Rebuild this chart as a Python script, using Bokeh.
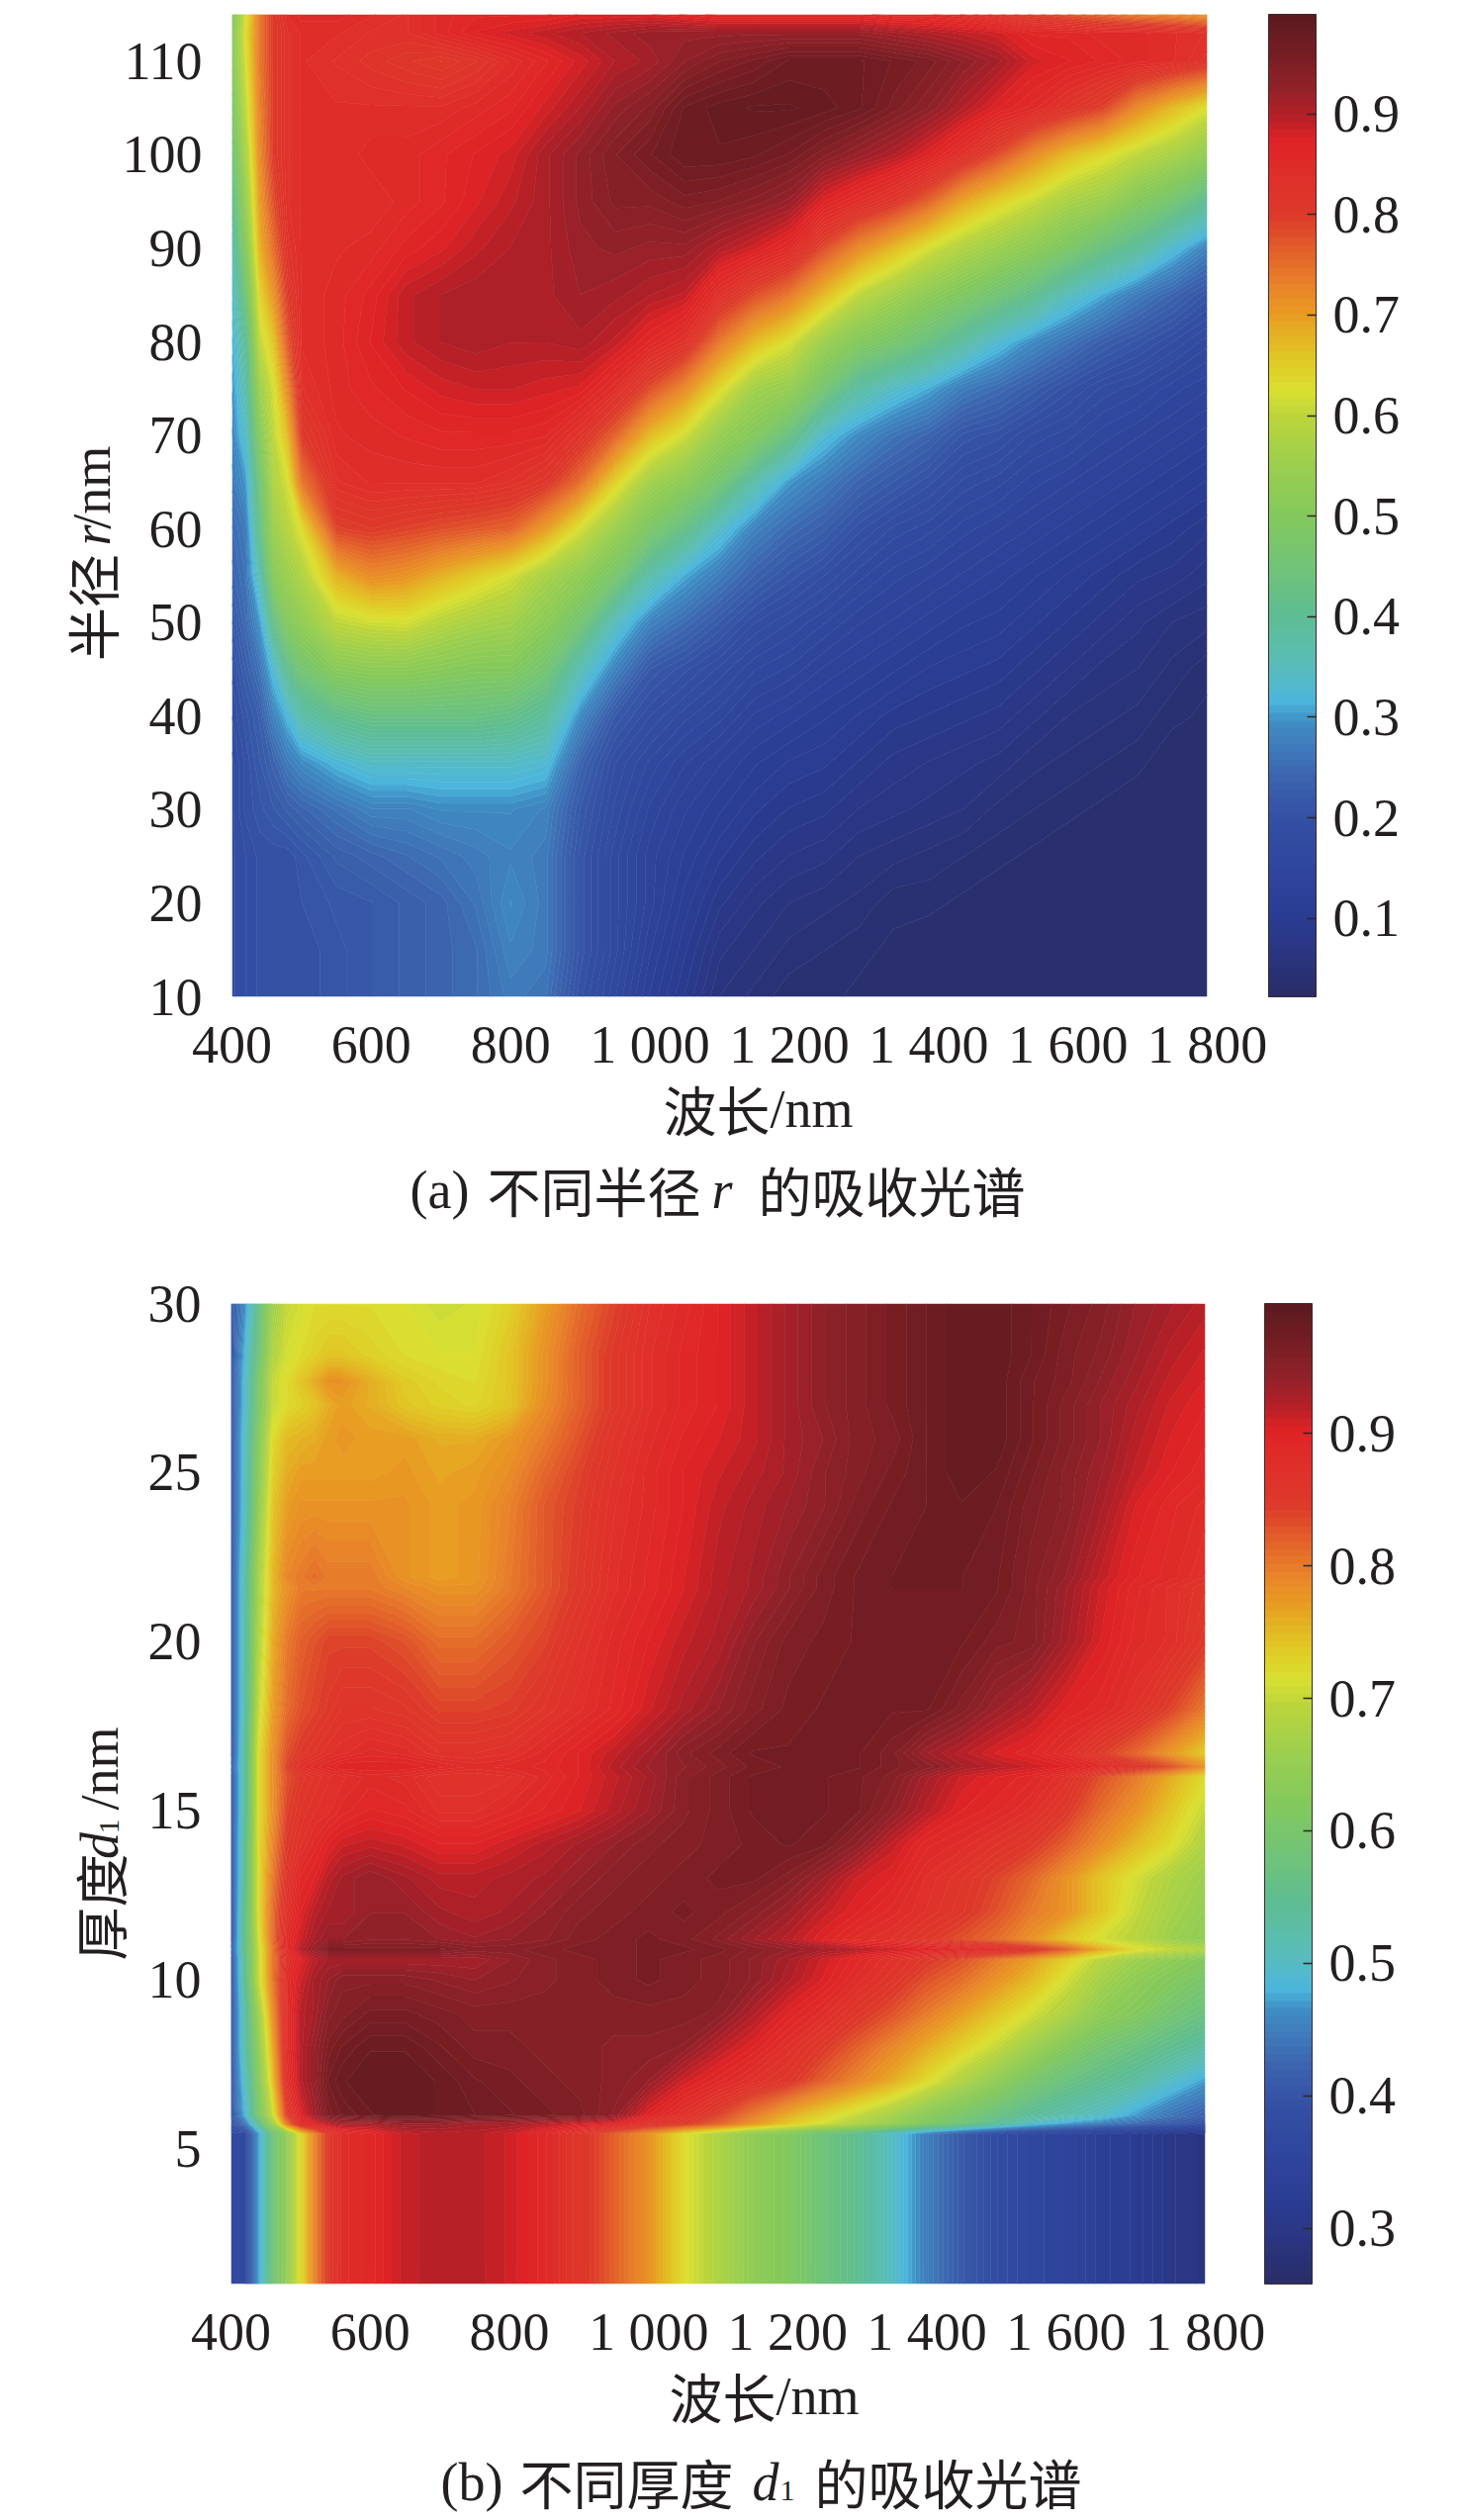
import math
import numpy as np
from bokeh.core.properties import value
from bokeh.embed import file_html
from bokeh.layouts import column, row
from bokeh.models import ColorBar, FixedTicker, LinearColorMapper, Range1d
from bokeh.plotting import figure
from bokeh.resources import INLINE

# ---------- shared colour scale ----------
cmap_stops = [0.0, .04, .08, .13, .18, .22, .25, .28, .30, .31, .34, .39, .44, .49, .54, .59, .618, .637, .665, .695,
              .725, .765, .795, .83, .87, .90, .925, .955, 1.0]
cmap_colors = ["#2a2e66", "#2b357f", "#2a3d92", "#2f469c", "#3450a4", "#3c62ad", "#3f78b9", "#3f8fc4", "#4cb5dc",
               "#50b8d4", "#5abdb8", "#5fbd93", "#72c477", "#84c95d", "#9bcf50", "#bcd53c", "#dbe032", "#dfd228",
               "#e3bb24", "#e89b22", "#e8832a", "#e25a2a", "#dd3a2a", "#e0312a", "#df2426", "#b02028", "#92222a",
               "#7a1f24", "#5a1a20"]
N_LEVELS = 128

# ---------- panel (a) ----------
wavelength_a = [400, 420, 440, 460, 480, 500, 550, 600, 650, 700, 750, 800, 850, 900, 950, 1000, 1050, 1100, 1150,
                1200, 1250, 1300, 1350, 1400, 1450, 1500, 1550, 1600, 1650, 1700, 1750, 1800]
radius = [10, 15, 20, 25, 30, 35, 40, 45, 50, 55, 60, 65, 70, 75, 80, 85, 90, 95, 100, 105, 110, 113, 115]
absorb_a_by_wavelength = [
    [.18, .18, .18, .18, .18, .18, .19, .20, .22, .24, .25, .27, .28, .29, .31, .33, .36, .40, .44, .47, .50, .50, .48],
    [.19, .19, .19, .19, .20, .20, .21, .23, .25, .26, .27, .30, .34, .37, .40, .45, .50, .54, .57, .60, .62, .63, .62],
    [.20, .20, .20, .20, .21, .22, .23, .26, .30, .36, .42, .45, .50, .55, .60, .64, .68, .70, .72, .73, .74, .74, .74],
    [.20, .20, .20, .20, .22, .24, .28, .33, .42, .51, .55, .58, .60, .62, .66, .71, .75, .78, .80, .80, .80, .80, .80],
    [.20, .20, .20, .20, .23, .27, .32, .41, .50, .55, .59, .62, .67, .72, .77, .80, .82, .83, .83, .83, .83, .83, .84],
    [.20, .20, .205, .21, .24, .29, .37, .46, .53, .58, .63, .74, .80, .83, .84, .84, .84, .84, .84, .84, .84, .84, .85],
    [.21, .21, .215, .23, .26, .32, .41, .51, .60, .68, .79, .83, .845, .85, .85, .85, .845, .84, .84, .84, .83, .84, .85],
    [.22, .22, .22, .24, .28, .34, .43, .52, .615, .72, .80, .84, .85, .86, .87, .865, .85, .84, .85, .84, .82, .83, .84],
    [.23, .23, .23, .25, .28, .34, .43, .52, .62, .71, .79, .84, .855, .87, .89, .89, .865, .85, .85, .84, .81, .83, .83],
    [.24, .24, .24, .26, .29, .34, .43, .51, .59, .68, .78, .84, .86, .88, .90, .90, .875, .86, .86, .84, .80, .85, .85],
    [.25, .25, .26, .27, .29, .34, .43, .50, .57, .65, .77, .84, .86, .885, .905, .905, .89, .875, .87, .85, .815, .87, .86],
    [.27, .28, .29, .28, .29, .34, .42, .50, .56, .62, .76, .83, .86, .885, .90, .905, .90, .89, .88, .86, .84, .88, .86],
    [.26, .27, .27, .27, .28, .33, .39, .46, .52, .57, .70, .81, .855, .88, .90, .905, .905, .905, .905, .88, .86, .89, .86],
    [.20, .21, .21, .21, .22, .24, .29, .36, .46, .53, .62, .75, .82, .875, .905, .915, .92, .925, .925, .90, .88, .90, .87],
    [.16, .17, .17, .17, .18, .19, .22, .28, .35, .47, .55, .645, .76, .84, .89, .91, .925, .94, .945, .925, .90, .91, .87],
    [.12, .13, .14, .14, .15, .165, .19, .22, .28, .37, .48, .56, .67, .78, .86, .90, .92, .94, .96, .94, .91, .92, .87],
    [.09, .10, .11, .12, .13, .145, .17, .20, .25, .31, .42, .52, .615, .72, .83, .89, .92, .95, .975, .97, .93, .92, .86],
    [.06, .07, .085, .10, .115, .13, .155, .18, .22, .27, .34, .46, .54, .635, .74, .83, .90, .945, .975, .98, .945, .92, .85],
    [.05, .06, .07, .085, .10, .115, .135, .16, .19, .235, .28, .37, .50, .56, .67, .78, .88, .935, .97, .985, .955, .92, .85],
    [.04, .05, .06, .075, .09, .105, .125, .15, .175, .21, .25, .30, .43, .54, .625, .74, .85, .92, .96, .985, .97, .92, .85],
    [.04, .045, .055, .07, .085, .10, .115, .135, .16, .19, .23, .27, .33, .46, .55, .67, .78, .87, .94, .98, .97, .92, .85],
    [.035, .04, .05, .06, .075, .09, .105, .125, .145, .17, .20, .24, .29, .38, .50, .60, .72, .84, .92, .97, .97, .92, .85],
    [.03, .035, .04, .055, .07, .08, .095, .115, .135, .155, .18, .22, .26, .34, .47, .56, .67, .81, .90, .95, .96, .91, .84],
    [.03, .03, .04, .05, .065, .075, .09, .105, .125, .145, .17, .20, .24, .31, .43, .52, .62, .76, .87, .93, .95, .90, .84],
    [.03, .03, .035, .045, .06, .07, .085, .10, .115, .135, .155, .18, .21, .27, .38, .49, .58, .69, .83, .90, .93, .89, .83],
    [.03, .03, .03, .04, .05, .065, .08, .095, .11, .125, .145, .17, .20, .25, .33, .45, .55, .645, .78, .87, .91, .88, .81],
    [.03, .03, .03, .035, .045, .055, .07, .085, .10, .115, .135, .155, .18, .225, .29, .41, .52, .61, .72, .85, .88, .86, .79],
    [.03, .03, .03, .03, .04, .05, .06, .075, .09, .105, .125, .145, .17, .20, .26, .35, .48, .57, .67, .82, .87, .86, .77],
    [.03, .03, .03, .03, .035, .045, .055, .065, .08, .095, .115, .135, .155, .18, .23, .31, .43, .55, .635, .79, .86, .85, .75],
    [.03, .03, .03, .03, .03, .04, .05, .06, .07, .085, .105, .125, .145, .17, .21, .27, .39, .50, .60, .72, .85, .85, .73],
    [.03, .03, .03, .03, .03, .03, .04, .05, .06, .08, .095, .115, .135, .155, .19, .24, .33, .46, .57, .67, .84, .84, .72],
    [.03, .03, .03, .03, .03, .03, .035, .04, .055, .07, .085, .105, .125, .145, .17, .21, .28, .40, .53, .625, .82, .83, .70],
]
y_ticks_a = [10, 20, 30, 40, 50, 60, 70, 80, 90, 100, 110]
cbar_ticks_a = [.1, .2, .3, .4, .5, .6, .7, .8, .9]
cbar_low_a, cbar_high_a = 0.022, 0.999

# ---------- panel (b) ----------
wavelength_b = [400, 420, 440, 460, 480, 500, 520, 540, 560, 600, 650, 700, 750, 800, 850, 900, 950, 1000, 1050, 1100,
                1150, 1200, 1250, 1300, 1350, 1400, 1450, 1500, 1550, 1600, 1650, 1700, 1750, 1800]
thickness = [1, 5.45, 5.75, 6, 7, 8, 9, 10, 10.6, 10.9, 11.2, 12, 13, 14, 15, 16, 16.3, 16.7, 18, 20, 21.6, 21.9, 24,
             25, 26, 27, 27.7, 28.5, 30]
absorb_b_by_thickness = [
    [.37, .37, .47, .58, .64, .72, .79, .85, .88, .89, .915, .92, .92, .91, .89, .86, .82, .78, .72, .68, .64, .62, .58, .55, .50, .45, .41, .38, .36, .35, .33, .32, .30, .29],
    [.37, .37, .47, .58, .64, .72, .79, .85, .88, .89, .915, .92, .92, .91, .89, .86, .82, .78, .72, .68, .64, .62, .58, .55, .50, .45, .41, .38, .36, .35, .33, .32, .30, .29],
    [.40, .44, .55, .66, .80, .88, .90, .92, .93, .93, .94, .94, .93, .93, .92, .91, .90, .87, .85, .82, .78, .74, .71, .68, .65, .61, .58, .54, .50, .47, .45, .43, .41, .39],
    [.40, .48, .60, .70, .84, .90, .93, .96, .97, .98, .985, .98, .975, .97, .965, .96, .945, .90, .87, .84, .80, .76, .73, .70, .67, .63, .60, .57, .54, .52, .50, .47, .44, .42],
    [.40, .50, .62, .74, .87, .92, .94, .97, .98, .985, .985, .98, .97, .965, .96, .955, .95, .94, .91, .89, .87, .855, .82, .79, .76, .72, .68, .64, .60, .57, .55, .53, .50, .47],
    [.40, .52, .64, .76, .88, .92, .94, .96, .97, .98, .98, .97, .96, .96, .955, .955, .95, .95, .945, .92, .90, .875, .85, .82, .79, .76, .73, .70, .66, .62, .59, .57, .55, .53],
    [.40, .52, .66, .78, .88, .92, .93, .95, .955, .965, .965, .96, .955, .955, .955, .955, .955, .955, .955, .95, .925, .90, .88, .855, .83, .80, .77, .74, .71, .68, .64, .62, .59, .57],
    [.40, .54, .70, .80, .88, .91, .93, .94, .95, .95, .95, .945, .94, .945, .95, .955, .96, .965, .96, .955, .945, .925, .905, .88, .86, .83, .81, .78, .75, .71, .67, .64, .62, .60],
    [.40, .54, .70, .80, .87, .90, .92, .93, .93, .93, .93, .93, .93, .94, .95, .955, .96, .965, .96, .955, .945, .93, .91, .89, .87, .85, .83, .80, .77, .73, .69, .66, .64, .62],
    [.41, .55, .70, .80, .88, .92, .94, .96, .96, .96, .96, .96, .95, .95, .955, .96, .96, .965, .965, .96, .95, .94, .93, .92, .91, .90, .89, .88, .86, .82, .76, .72, .70, .68],
    [.40, .55, .71, .81, .88, .91, .93, .94, .94, .945, .945, .94, .935, .94, .945, .955, .96, .965, .96, .95, .935, .92, .90, .88, .87, .85, .83, .81, .78, .74, .71, .69, .66, .64],
    [.40, .55, .72, .81, .87, .90, .92, .93, .93, .94, .94, .93, .925, .93, .94, .95, .955, .96, .965, .96, .95, .935, .915, .90, .885, .87, .855, .83, .80, .78, .74, .70, .67, .65],
    [.40, .54, .72, .80, .86, .89, .90, .92, .93, .94, .93, .92, .92, .925, .93, .94, .95, .955, .96, .965, .965, .955, .935, .91, .90, .875, .86, .84, .815, .78, .74, .71, .68, .66],
    [.40, .54, .72, .79, .85, .87, .885, .90, .91, .915, .91, .90, .90, .91, .92, .93, .94, .95, .955, .96, .965, .97, .965, .945, .915, .89, .88, .865, .85, .82, .785, .75, .72, .68],
    [.40, .53, .72, .78, .84, .86, .87, .875, .885, .895, .89, .875, .875, .885, .895, .905, .92, .935, .95, .96, .97, .97, .97, .965, .945, .92, .90, .89, .875, .85, .81, .78, .74, .70],
    [.40, .53, .72, .78, .83, .85, .86, .87, .875, .885, .88, .865, .865, .87, .885, .90, .915, .93, .95, .96, .97, .97, .97, .965, .955, .93, .91, .90, .89, .87, .83, .80, .76, .72],
    [.41, .53, .72, .78, .84, .87, .88, .89, .90, .90, .90, .89, .88, .885, .89, .90, .92, .935, .945, .955, .965, .97, .97, .97, .96, .95, .93, .92, .91, .90, .88, .86, .83, .78],
    [.40, .53, .72, .78, .83, .85, .86, .87, .875, .885, .88, .865, .865, .87, .885, .90, .915, .93, .95, .96, .97, .97, .97, .97, .96, .935, .92, .905, .895, .875, .845, .815, .775, .735],
    [.40, .52, .70, .77, .81, .83, .84, .85, .86, .86, .855, .84, .84, .845, .86, .875, .89, .91, .925, .94, .955, .965, .97, .97, .97, .97, .955, .935, .92, .90, .89, .87, .84, .80],
    [.40, .52, .68, .76, .80, .82, .83, .84, .84, .84, .83, .81, .81, .825, .84, .865, .885, .90, .915, .925, .945, .96, .965, .97, .97, .97, .97, .96, .955, .93, .905, .885, .875, .85],
    [.40, .52, .67, .75, .78, .80, .80, .80, .80, .80, .79, .78, .78, .80, .825, .85, .875, .89, .905, .92, .93, .945, .96, .97, .975, .975, .975, .97, .955, .935, .91, .89, .875, .86],
    [.40, .52, .67, .75, .79, .80, .81, .80, .80, .80, .78, .77, .775, .80, .825, .85, .875, .89, .905, .92, .93, .945, .96, .97, .975, .975, .975, .97, .955, .94, .915, .895, .885, .87],
    [.40, .50, .64, .74, .77, .78, .78, .78, .78, .78, .78, .77, .775, .795, .825, .845, .87, .885, .90, .915, .925, .935, .945, .96, .97, .975, .98, .975, .96, .95, .93, .905, .89, .88],
    [.40, .50, .63, .73, .76, .77, .77, .77, .77, .77, .775, .765, .77, .785, .815, .84, .865, .885, .90, .91, .92, .93, .945, .955, .965, .975, .985, .98, .965, .95, .935, .915, .90, .89],
    [.40, .50, .62, .72, .75, .755, .76, .77, .775, .77, .77, .76, .76, .775, .80, .83, .86, .88, .895, .905, .915, .93, .94, .955, .96, .975, .985, .985, .97, .955, .94, .92, .905, .895],
    [.40, .49, .60, .70, .72, .73, .74, .76, .77, .76, .74, .73, .725, .74, .785, .82, .85, .875, .89, .90, .915, .93, .945, .955, .965, .975, .985, .985, .97, .955, .94, .925, .91, .90],
    [.40, .49, .60, .70, .72, .74, .76, .78, .78, .76, .735, .725, .72, .74, .78, .82, .85, .875, .89, .90, .915, .93, .945, .955, .965, .975, .985, .985, .97, .96, .945, .93, .915, .905],
    [.40, .48, .58, .68, .71, .72, .73, .74, .74, .73, .72, .715, .715, .74, .78, .82, .85, .875, .89, .90, .915, .93, .945, .955, .965, .975, .985, .985, .975, .96, .95, .935, .92, .91],
    [.40, .46, .56, .66, .70, .71, .72, .72, .72, .72, .715, .705, .71, .73, .77, .81, .84, .87, .885, .90, .915, .93, .945, .955, .965, .975, .985, .985, .975, .965, .955, .94, .93, .92],
]
y_ticks_b = [5, 10, 15, 20, 25, 30]
cbar_ticks_b = [.3, .4, .5, .6, .7, .8, .9]
cbar_low_b, cbar_high_b = 0.258, 0.998

x_ticks = [400, 600, 800, 1000, 1200, 1400, 1600, 1800]
x_tick_labels = ["400", "600", "800", "1 000", "1 200", "1 400", "1 600", "1 800"]

LATIN = "Liberation Serif"
CJK = "Noto Sans CJK SC"
INK = "#231f20"
SIZE = "54px"
WIDTH = 1460
UP = math.pi / 2


def hex_rgb(h):
    return [int(h[i:i + 2], 16) for i in (1, 3, 5)]


def make_palette(n):
    rgb = np.array([hex_rgb(c) for c in cmap_colors], dtype=float)
    t = (np.arange(n) + 0.5) / n
    ch = [np.interp(t, cmap_stops, rgb[:, k]) for k in range(3)]
    return ["#%02x%02x%02x" % (int(r), int(g), int(b)) for r, g, b in zip(*ch)]


def panel(xs, ys, z, ylim, y_ticks, low, high, cbar_ticks, fl, ft, fw, fh, cbar_gap, total_w, total_h):
    p = figure(output_backend="svg", toolbar_location=None, frame_width=fw, frame_height=fh,
               x_range=Range1d(400, 1800), y_range=Range1d(*ylim),
               min_border_left=fl, min_border_top=ft,
               min_border_right=total_w - fl - fw, min_border_bottom=total_h - ft - fh)
    p.outline_line_color = None
    p.grid.visible = False
    palette = make_palette(N_LEVELS)
    levels = np.linspace(low, high, N_LEVELS + 1)
    line_cols = palette + [palette[-1]]
    p.contour(xs, ys, z, levels, fill_color=palette, line_color=line_cols, line_width=0.8)
    for ax, ticks in ((p.xaxis[0], x_ticks), (p.yaxis[0], y_ticks)):
        ax.ticker = FixedTicker(ticks=ticks)
        ax.axis_line_color = None
        ax.major_tick_line_color = None
        ax.minor_tick_line_color = None
        ax.major_label_text_font = LATIN
        ax.major_label_text_font_size = SIZE
        ax.major_label_text_color = INK
    p.xaxis[0].major_label_overrides = dict(zip(x_ticks, x_tick_labels))
    p.xaxis[0].major_label_standoff = 12
    p.yaxis[0].major_label_standoff = 24
    mapper = LinearColorMapper(palette=palette, low=low, high=high)
    cb = ColorBar(color_mapper=mapper, location=(fw + cbar_gap, 0), width=48, height=fh, margin=0, padding=0,
                  ticker=FixedTicker(ticks=cbar_ticks), major_label_text_font=LATIN,
                  major_label_text_font_size=SIZE, major_label_text_color=INK, label_standoff=17,
                  major_tick_in=9, major_tick_out=0, major_tick_line_color="#33241f", major_tick_line_width=1.5,
                  minor_tick_line_color=None, bar_line_color="#3a2a2a", bar_line_width=1,
                  background_fill_color=None, border_line_color=None)
    p.add_layout(cb, "center")
    return p


def text_strip(w, h, x0, y0, items):
    """A bare figure whose frame fills it; its scale runs in page pixels, so each text lands where it belongs."""
    p = figure(output_backend="svg", toolbar_location=None, width=w, height=h, min_border=0,
               x_range=Range1d(x0, x0 + w), y_range=Range1d(y0 + h, y0),
               x_axis_location=None, y_axis_location=None, outline_line_color=None)
    p.grid.visible = False
    for text, x, y, font, angle, style, size in items:
        p.text(x=[x], y=[y], text=[text], text_font=value(font), text_font_size=value(size),
               text_font_style=style, text_color=INK, angle=angle,
               text_align="center" if angle else "left", text_baseline="middle")
    return p


# page rows: panel a 0-1090, texts 1090-1270, panel b 1270-2385, texts 2385-2540
ROW_A, CAP_A, ROW_B, CAP_B = 1090, 180, 1115, 155
LAB_A, LAB_B = 120, 128

pa = panel(wavelength_a, radius, np.array(absorb_a_by_wavelength).T, (10, 115), y_ticks_a, cbar_low_a, cbar_high_a,
           cbar_ticks_a, 227 - LAB_A, 14, 986, 993, 62, WIDTH - LAB_A, ROW_A)
pb = panel(wavelength_b, thickness, np.array(absorb_b_by_thickness), (1, 30), y_ticks_b, cbar_low_b, cbar_high_b,
           cbar_ticks_b, 233 - LAB_B, 47, 985, 991, 60, WIDTH - LAB_B, ROW_B)

ylab_a = text_strip(LAB_A, ROW_A, 0, 0, [
    ("半径", 92, 658, CJK, UP, "normal", SIZE),
    ("r", 92, 578, LATIN, UP, "italic", SIZE),
    ("/nm", 92, 525, LATIN, UP, "normal", SIZE),
])
cap_a = text_strip(WIDTH, CAP_A, 0, ROW_A, [
    ("波长", 670, 1120, CJK, 0.0, "normal", SIZE),
    ("/nm", 778, 1120, LATIN, 0.0, "normal", SIZE),
    ("(a)", 414, 1202, LATIN, 0.0, "normal", SIZE),
    ("不同半径", 492, 1202, CJK, 0.0, "normal", SIZE),
    ("r", 719, 1202, LATIN, 0.0, "italic", SIZE),
    ("的吸收光谱", 766, 1202, CJK, 0.0, "normal", SIZE),
])
ylab_b = text_strip(LAB_B, ROW_B, 0, ROW_A + CAP_A, [
    ("厚度", 100, 1959, CJK, UP, "normal", SIZE),
    ("d", 100, 1889, LATIN, UP, "italic", SIZE),
    ("1", 110, 1867, LATIN, UP, "normal", "30px"),
    ("/nm", 100, 1801, LATIN, UP, "normal", SIZE),
])
cap_b = text_strip(WIDTH, CAP_B, 0, ROW_A + CAP_A + ROW_B, [
    ("波长", 676, 2417, CJK, 0.0, "normal", SIZE),
    ("/nm", 784, 2417, LATIN, 0.0, "normal", SIZE),
    ("(b)", 445, 2504, LATIN, 0.0, "normal", SIZE),
    ("不同厚度", 525, 2504, CJK, 0.0, "normal", SIZE),
    ("d", 760, 2504, LATIN, 0.0, "italic", SIZE),
    ("1", 788, 2513, LATIN, 0.0, "normal", "30px"),
    ("的吸收光谱", 823, 2504, CJK, 0.0, "normal", SIZE),
])

page = column(row(ylab_a, pa, spacing=0), cap_a, row(ylab_b, pb, spacing=0), cap_b, spacing=0)
open("out.html", "w").write(file_html(page, INLINE))
